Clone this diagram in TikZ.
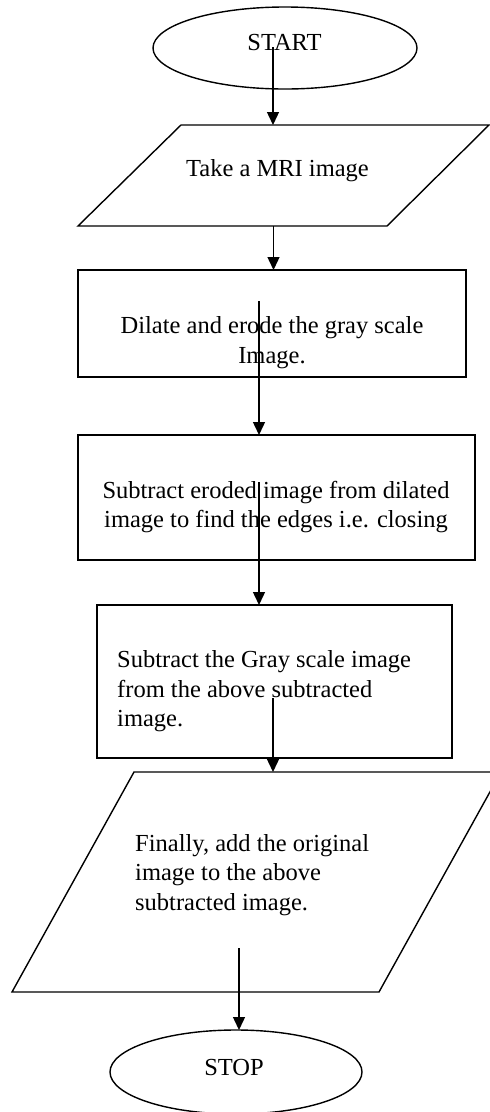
\documentclass[tikz,border=0pt]{standalone}
\usepackage{fontspec}
\setmainfont{Liberation Serif}
\usetikzlibrary{arrows.meta,shapes.geometric}
\begin{document}
\begin{tikzpicture}[x=1pt,y=-1pt,
  shapeline/.style={line width=1.4pt},
  flow/.style={line width=1.4pt,-{Triangle[length=13pt,width=12pt]}},
  txt/.style={inner sep=0pt,font=\fontsize{24.5}{29.5}\selectfont}]
\useasboundingbox (0,0) rectangle (490,1112);
\clip (0,0) rectangle (490,1112);
% START
\node[draw,shapeline,ellipse,minimum width=264pt,minimum height=82pt,inner sep=0pt] (startE) at (285,48) {};
\node[txt,anchor=base] (startT) at (284.5,50) {START};
% Take a MRI image
\coordinate (p1a) at (181,125);
\coordinate (p1b) at (489,125);
\coordinate (p1c) at (387,226);
\coordinate (p1d) at (78,226);
\draw[shapeline,line join=miter] (p1a) -- (p1b) -- (p1c) -- (p1d) -- cycle;
\node[txt,anchor=base] (takeT) at (277.5,176.7) {Take a MRI image};
% Box 1
\node[draw,shapeline,minimum width=388pt,minimum height=107pt,inner sep=0pt] (box1) at (272,323.5) {};
\node[txt,align=center] (box1T) at (272,342.5) {Dilate and erode the gray scale\\Image.};
% Box 2
\node[draw,shapeline,minimum width=397pt,minimum height=125pt,inner sep=0pt] (box2) at (276.5,497.5) {};
\node[txt,align=center] (box2T) at (276,507) {Subtract eroded image from dilated\\image to find the edges i.e. closing};
% Box 3
\node[draw,shapeline,minimum width=355pt,minimum height=153pt,inner sep=0pt] (box3) at (274.5,681.5) {};
\node[txt,align=left,anchor=west] (box3T) at (117,691.5) {Subtract the Gray scale image\\from the above subtracted\\image.};
% Final parallelogram
\coordinate (p2a) at (134,772);
\coordinate (p2b) at (501,772);
\coordinate (p2c) at (379,992);
\coordinate (p2d) at (12,992);
\draw[shapeline,line join=miter] (p2a) -- (p2b) -- (p2c) -- (p2d) -- cycle;
\node[txt,align=left,anchor=west] (finT) at (135,875) {Finally, add the original\\image to the above\\subtracted image.};
% STOP
\node[draw,shapeline,ellipse,minimum width=252pt,minimum height=84pt,inner sep=0pt] (stopE) at (236,1072) {};
\node[txt,anchor=base] (stopT) at (234,1075) {STOP};
% connectors
\coordinate (a1s) at (273,47);   \coordinate (a1e) at (273,125);
\coordinate (a2s) at (273.5,226); \coordinate (a2e) at (273.5,270);
\coordinate (a3s) at (259,301);  \coordinate (a3e) at (259,435);
\coordinate (a4s) at (259,482);  \coordinate (a4e) at (259,605);
\coordinate (a5s) at (273,698);  \coordinate (a5e) at (273,772);
\coordinate (a6s) at (239,948);  \coordinate (a6e) at (239,1030);
\draw[flow] (a1s) -- (a1e);
\draw[flow] (a2s) -- (a2e);
\draw[flow] (a3s) -- (a3e);
\draw[flow] (a4s) -- (a4e);
\draw[flow] (a5s) -- (a5e);
\draw[flow] (a6s) -- (a6e);
\end{tikzpicture}
\end{document}
